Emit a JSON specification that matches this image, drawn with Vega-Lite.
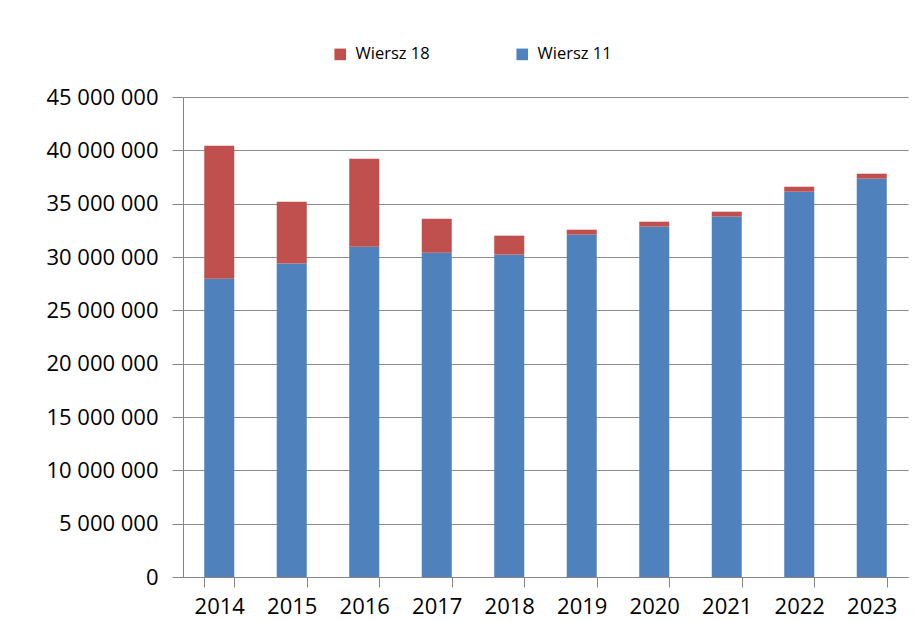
{
  "$schema": "https://vega.github.io/schema/vega-lite/v6.json",
  "autosize": {"type": "none"},
  "width": 725,
  "height": 480,
  "padding": {"left": 183, "top": 97, "right": 14, "bottom": 43},
  "background": "white",
  "config": {
    "view": {"stroke": null},
    "locale": {"number": {"decimal": ",", "thousands": " ", "grouping": [3], "currency": ["", " zł"]}},
    "font": "Open Sans"
  },
  "data": {
    "values": [
      {"year": "2014", "series": "Wiersz 11", "value": 27970000},
      {"year": "2014", "series": "Wiersz 18", "value": 12450000},
      {"year": "2015", "series": "Wiersz 11", "value": 29400000},
      {"year": "2015", "series": "Wiersz 18", "value": 5780000},
      {"year": "2016", "series": "Wiersz 11", "value": 30970000},
      {"year": "2016", "series": "Wiersz 18", "value": 8240000},
      {"year": "2017", "series": "Wiersz 11", "value": 30400000},
      {"year": "2017", "series": "Wiersz 18", "value": 3190000},
      {"year": "2018", "series": "Wiersz 11", "value": 30220000},
      {"year": "2018", "series": "Wiersz 18", "value": 1780000},
      {"year": "2019", "series": "Wiersz 11", "value": 32090000},
      {"year": "2019", "series": "Wiersz 18", "value": 470000},
      {"year": "2020", "series": "Wiersz 11", "value": 32840000},
      {"year": "2020", "series": "Wiersz 18", "value": 470000},
      {"year": "2021", "series": "Wiersz 11", "value": 33780000},
      {"year": "2021", "series": "Wiersz 18", "value": 470000},
      {"year": "2022", "series": "Wiersz 11", "value": 36120000},
      {"year": "2022", "series": "Wiersz 18", "value": 470000},
      {"year": "2023", "series": "Wiersz 11", "value": 37340000},
      {"year": "2023", "series": "Wiersz 18", "value": 470000}
    ]
  },
  "mark": {"type": "bar"},
  "encoding": {
    "x": {
      "field": "year",
      "type": "nominal",
      "scale": {"paddingInner": 0.586, "paddingOuter": 0.293},
      "axis": {
        "title": null,
        "labelAngle": 0,
        "labelFont": "Open Sans",
        "labelFontSize": 22,
        "labelColor": "black",
        "labelPadding": 9,
        "tickBand": "extent",
        "tickSize": 10,
        "tickColor": "#868686",
        "domainColor": "#868686",
        "grid": false
      }
    },
    "y": {
      "field": "value",
      "type": "quantitative",
      "stack": "zero",
      "scale": {"domain": [0, 45000000], "nice": false},
      "axis": {
        "title": null,
        "values": [0, 5000000, 10000000, 15000000, 20000000, 25000000, 30000000, 35000000, 40000000, 45000000],
        "format": ",d",
        "labelFont": "Open Sans",
        "labelFontSize": 22,
        "labelColor": "black",
        "labelPadding": 14,
        "tickSize": 11,
        "tickColor": "#868686",
        "domainColor": "#868686",
        "grid": true,
        "gridColor": "#8C8C8C",
        "gridWidth": 1
      }
    },
    "color": {
      "field": "series",
      "type": "nominal",
      "sort": "descending",
      "scale": {"domain": ["Wiersz 18", "Wiersz 11"], "range": ["#C0504D", "#4F81BD"]},
      "legend": {
        "title": null,
        "orient": "none",
        "direction": "horizontal",
        "legendX": 149,
        "legendY": -51,
        "padding": 0,
        "symbolType": "square",
        "symbolSize": 135,
        "symbolStrokeWidth": 0,
        "labelFont": "Open Sans",
        "labelFontSize": 16.5,
        "labelColor": "black",
        "labelOffset": 7,
        "columnPadding": 84
      }
    },
    "order": {"field": "series", "sort": "ascending"}
  }
}
